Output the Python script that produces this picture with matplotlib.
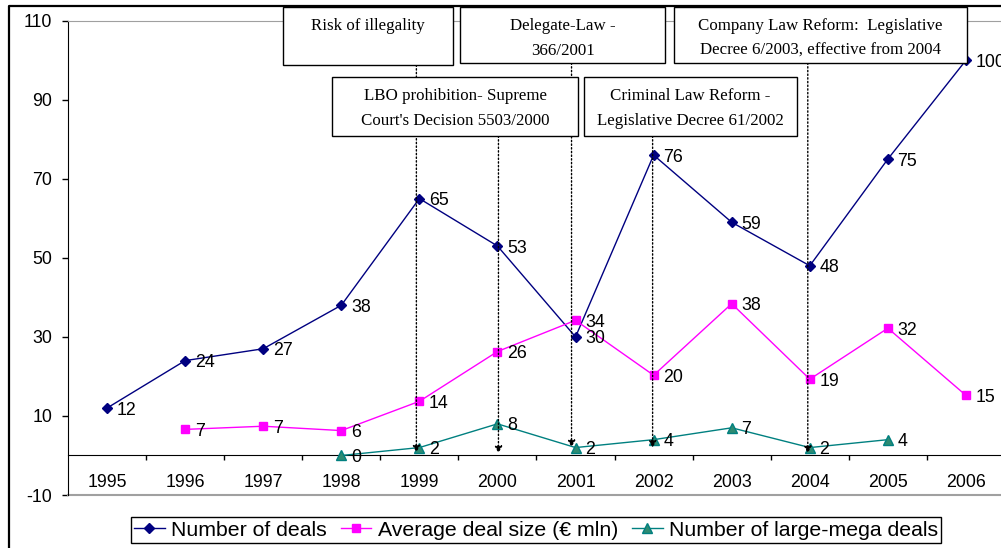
import numpy as np
import matplotlib.pyplot as plt
from matplotlib.patches import Rectangle
from matplotlib.lines import Line2D
from matplotlib.ticker import FixedLocator

plt.rcParams['axes.unicode_minus'] = False

# data
years = ['1995', '1996', '1997', '1998', '1999', '2000',
         '2001', '2002', '2003', '2004', '2005', '2006']
num_deals = [12, 24, 27, 38, 65, 53, 30, 76, 59, 48, 75, 100]
avg_size = [np.nan, 6.6, 7.4, 6.3, 13.7, 26.3, 34.2, 20.3, 38.4, 19.3, 32.2, 15.2]
large_mega = [np.nan, np.nan, np.nan, 0, 2, 8, 2, 4, 7, 2, 4, np.nan]

event_texts = ['Risk of illegality',
               'Delegate-Law -\n366/2001',
               'Company Law Reform:  Legislative\nDecree 6/2003, effective from 2004',
               'LBO prohibition- Supreme\nCourt\'s Decision 5503/2000',
               'Criminal Law Reform -\nLegislative Decree 61/2002']
arrow_years = ['1999', '2001', '2004', '2000', '2002']

# layout (figure pixels, origin top-left)
W, H = 1001, 548
box_px = [(283, 7, 453, 65), (460, 7, 665, 63), (674, 7, 967, 63),
          (332, 77, 578, 136), (584, 77, 797, 136)]
arrow_dx = [-3, -4, -2, 1, -1]     # px shift of the dotted arrows
arrow_end = [0.8, 2.1, 0.6, 0.6, 2.0]

SANS = 'Liberation Sans'
SERIF = 'Liberation Serif'


def fx(px):
	return px / W


def fy(py):
	return 1 - py / H


fig = plt.figure(figsize=(W / 100, H / 100), dpi=100)
ax = fig.add_axes([fx(68), fy(495), 937 / W, 474.3 / H])
x = np.arange(len(years))
px_per_cat = 937 / len(years)

ax.plot(x, num_deals, color='#000080', lw=1, marker='D', ms=5, zorder=3,
	label='Number of deals')
ax.plot(x, avg_size, color='#ff00ff', lw=1, marker='s', ms=6, zorder=3,
	label='Average deal size (\u20ac mln)')
ax.plot(x, large_mega, color='#008080', lw=1, marker='^', ms=6.5, zorder=3,
	markerfacecolor='#2e8b72', markeredgecolor='#008080',
	label='Number of large-mega deals')

# value labels
for series in (num_deals, avg_size, large_mega):
	for xi, v in zip(x, series):
		if np.isnan(v):
			continue
		ax.annotate('%.0f' % v, (xi, v), xytext=(7, -1.5), textcoords='offset points',
			ha='left', va='center', fontsize=12.8, family=SANS, zorder=4)

ax.set_xlim(-0.5, len(years) - 0.5)
ax.set_ylim(-10, 110)

# axes styling
ax.spines['right'].set_visible(False)
ax.spines['top'].set_color('#a0a0a0')
ax.spines['bottom'].set_position(('data', 0))
ax.spines['bottom'].set_color('black')
ax.spines['left'].set_color('black')
ax.axhline(-10, color='#a0a0a0', lw=1.5, clip_on=False)

ax.set_yticks(range(-10, 111, 20))
ax.tick_params(axis='y', direction='out', length=4.3, width=1, pad=7.2,
	labelsize=12.8)
ax.set_xticks(x, years)
ax.tick_params(axis='x', which='major', length=0, pad=13.5, labelsize=12.8)
ax.xaxis.set_minor_locator(FixedLocator(x[:-1] + 0.5))
ax.tick_params(axis='x', which='minor', direction='out', length=3.6, width=1)
for lab in ax.get_xticklabels() + ax.get_yticklabels():
	lab.set_family(SANS)

# dotted arrows from event boxes down to the axis
for yr, dx, yend, (x0, y0, x1, y1) in zip(arrow_years, arrow_dx, arrow_end, box_px):
	xi = years.index(yr) + dx / px_per_cat
	ax.annotate('', xy=(xi, yend), xycoords='data',
		xytext=(xi, fy(y1)), textcoords=('data', 'figure fraction'),
		arrowprops=dict(arrowstyle='-|>,head_length=0.4,head_width=0.22',
			linestyle=':', lw=1, color='black', shrinkA=0, shrinkB=0,
			mutation_scale=10), zorder=3.5)

# event boxes
for txt, (x0, y0, x1, y1) in zip(event_texts, box_px):
	fig.patches.append(Rectangle((fx(x0), fy(y1)), fx(x1) - fx(x0), fy(y0) - fy(y1),
		transform=fig.transFigure, facecolor='white', edgecolor='black', lw=1,
		zorder=2))
	for k, line in enumerate(txt.split('\n')):
		fig.text(fx((x0 + x1) / 2), fy(y0 + 19 + 25 * k), line, ha='center',
			va='center', fontsize=12.2, family=SERIF, zorder=3)

# outer chart border (only left/top visible)
fig.add_artist(Line2D([fx(8.5), fx(8.5), fx(W + 5)], [fy(H + 5), fy(5.5), fy(5.5)],
	transform=fig.transFigure, color='black', lw=1.6))

leg = fig.legend(loc='center', bbox_to_anchor=(fx(536), fy(530)), ncol=3,
	frameon=True, fancybox=False, edgecolor='black', framealpha=1,
	prop={'family': SANS, 'size': 15.3}, handlelength=1.45, handletextpad=0.3,
	columnspacing=0.65, borderpad=0.15, borderaxespad=0)
leg.get_frame().set_linewidth(1)

fig.savefig('out.png', dpi=100)
